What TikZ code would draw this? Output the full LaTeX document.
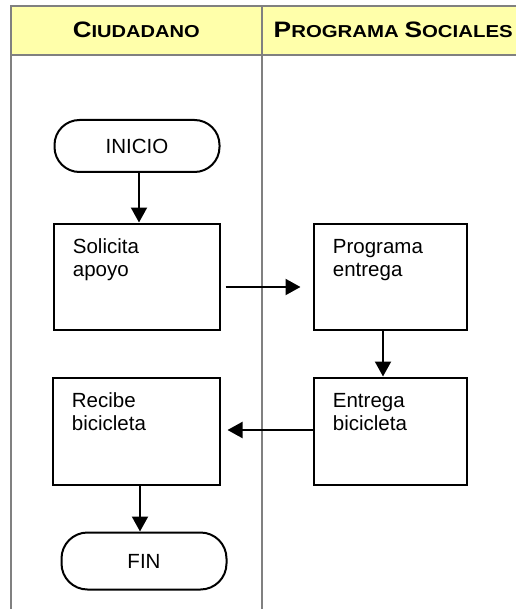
\documentclass[tikz,border=0pt]{standalone}
\usepackage{fontspec}
\usepackage{graphicx}
\setmainfont{Liberation Sans}
\usetikzlibrary{arrows.meta}
\definecolor{encabezado}{RGB}{255,255,170}
\definecolor{gris}{RGB}{128,128,128}
\newcommand{\letra}{\fontsize{10.25pt}{11.5pt}\selectfont}
\tikzset{
	carril/.style={draw=gris, line width=1pt},
	paso/.style={draw, line width=1pt, rectangle, inner sep=0pt},
	terminal/.style={draw, line width=1pt, rectangle, inner sep=0pt, font=\letra},
	texto/.style={anchor=north west, inner sep=0pt, xshift=10pt, yshift=-8pt, align=left, font=\letra},
	flecha/.style={line width=1pt, -{Triangle[length=7.5pt, width=8pt]}},
}

\begin{document}
\begin{tikzpicture}[x=0.5pt, y=-0.5pt]
		%%%%% START %%%%%
		\useasboundingbox (0, 0) rectangle (515, 609);
		
		\draw[carril, fill=encabezado] (11, 6) rectangle (540, 55);
		\draw[carril] (11, 55) -- (11, 609);
		\draw[carril] (262, 6) -- (262, 609);
		
		\node[inner sep=0pt, anchor=base] (ciudadano) at (136.3, 37.3) {\resizebox{63.5pt}{7.8pt}{\bfseries\fontsize{11pt}{13pt}\selectfont C\fontsize{8.5pt}{10pt}\selectfont IUDADANO}};
		\node[inner sep=0pt, anchor=base west] (sociales) at (273.3, 37.3) {\resizebox{119.5pt}{7.8pt}{\bfseries\fontsize{11pt}{13pt}\selectfont P\fontsize{8.5pt}{10pt}\selectfont ROGRAMA \fontsize{11pt}{13pt}\selectfont S\fontsize{8.5pt}{10pt}\selectfont OCIALES}};
		
		\node[terminal, rounded corners=12.5pt, minimum width=82.5pt, minimum height=26pt] (inicio) at (137, 146) {INICIO};
		\node[paso, minimum width=83pt, minimum height=53pt, label={[texto]north west:Solicita\\apoyo}] (solicita) at (136.5, 276.5) {};
		\node[paso, minimum width=76.5pt, minimum height=53pt, label={[texto]north west:Programa\\entrega}] (programa) at (390, 276.5) {};
		\node[paso, minimum width=76.5pt, minimum height=53.5pt, label={[texto]north west:Entrega\\bicicleta}] (entrega) at (390, 431) {};
		\node[paso, minimum width=83.5pt, minimum height=53.5pt, label={[texto]north west:Recibe\\bicicleta}] (recibe) at (136, 431) {};
		\node[terminal, rounded corners=13pt, minimum width=82.5pt, minimum height=28.5pt] (fin) at (144, 561) {FIN};
		
		\draw[flecha] ([xshift=1pt]inicio.south) -- ([xshift=1.25pt]solicita.north);
		\draw[flecha, shorten <=2.5pt, shorten >=6pt] ([yshift=-5.25pt]solicita.east) -- ([yshift=-5.25pt]programa.west);
		\draw[flecha] ([xshift=-3.5pt]programa.south) -- ([xshift=-3.5pt]entrega.north);
		\draw[flecha, shorten >=3.5pt] ([yshift=0.5pt]entrega.west) -- ([yshift=0.5pt]recibe.east);
		\draw[flecha] ([xshift=2pt]recibe.south) -- ([xshift=-2pt]fin.north);
		
		%%%%% END %%%%%
	\end{tikzpicture}
\end{document}
